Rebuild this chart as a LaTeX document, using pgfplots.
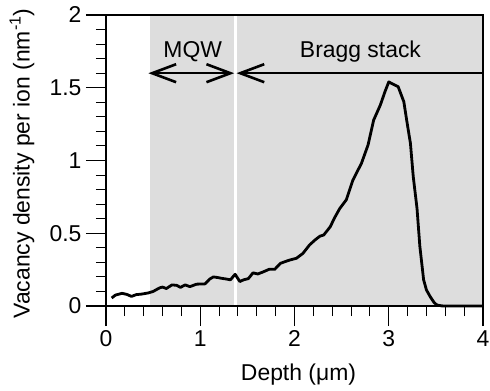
\documentclass[border=0pt]{standalone}
\usepackage{pgfplots}
\pgfplotsset{compat=1.18}
\usepackage{fontspec}
\setmainfont{Liberation Sans}
\usetikzlibrary{arrows.meta}
\definecolor{bandgray}{gray}{0.865}
\newcommand{\bigf}{\fontsize{23}{27}\selectfont}
\begin{document}
\begin{tikzpicture}[x=1bp,y=1bp]
\useasboundingbox (-106bp,-85bp) rectangle (384bp,306bp);
\begin{axis}[
  at={(0,0)}, anchor=south west,
  scale only axis,
  width=377bp, height=291bp,
  xmin=0, xmax=4, ymin=0, ymax=2,
  xtick={0,1,2,3,4}, ytick={0,0.5,1,1.5,2},
  minor x tick num=4, minor y tick num=4,
  tick align=outside,
  xtick pos=bottom, ytick pos=left,
  major tick length=20bp, minor tick length=10bp,
  every tick/.style={black, line width=1.1pt},
  axis line style={line width=1.3pt},
  axis on top,
  tick label style={font=\bigf},
  label style={font=\bigf},
  /pgf/number format/assume math mode=true,
  xticklabel style={yshift=-1bp},
  yticklabel style={xshift=-1bp},
  xlabel={Depth (μm)},
  ylabel={Vacancy density per ion (nm\textsuperscript{-1})},
  xlabel style={at={(axis description cs:0.5,0)}, anchor=center, yshift=-69bp, xshift=4bp},
  ylabel style={at={(axis description cs:0,0.5)}, anchor=center, rotate=0, yshift=84bp, xshift=-3bp},
  clip=false,
]
\fill[bandgray] (axis cs:0.47,0) rectangle (axis cs:4,2);
\draw[white, line width=3bp] (axis cs:1.37,0) -- (axis cs:1.37,2);
\draw[line width=2.6bp, {Straight Barb[length=24bp,width=18bp,line width=2.6bp]}-{Straight Barb[length=24bp,width=18bp,line width=2.6bp]}] (axis cs:0.45,1.60) -- (axis cs:1.36,1.60);
\draw[line width=2.6bp, {Straight Barb[length=24bp,width=18bp,line width=2.6bp]}-] (axis cs:1.385,1.60) -- (axis cs:4,1.60);
\node[font=\bigf] at (axis cs:0.92,1.75) {MQW};
\node[font=\bigf] at (axis cs:2.70,1.75) {Bragg stack};
\addplot[black, line width=2.8bp, line join=round, mark=none] coordinates {
(0.06,0.055) (0.10,0.075) (0.17,0.087) (0.22,0.080) (0.27,0.066) (0.32,0.078)
(0.38,0.082) (0.45,0.090) (0.50,0.100) (0.57,0.125) (0.60,0.130) (0.64,0.120)
(0.70,0.145) (0.75,0.142) (0.79,0.128) (0.84,0.145) (0.89,0.133) (0.96,0.150)
(1.05,0.152) (1.10,0.185) (1.14,0.200) (1.19,0.195) (1.23,0.190) (1.28,0.185)
(1.32,0.180) (1.37,0.218) (1.42,0.168) (1.46,0.180) (1.51,0.188) (1.56,0.228)
(1.61,0.220) (1.67,0.235) (1.73,0.252) (1.79,0.252) (1.85,0.293) (1.90,0.305)
(1.95,0.316) (2.02,0.328) (2.09,0.362) (2.16,0.420) (2.22,0.455) (2.27,0.480)
(2.31,0.488) (2.38,0.545) (2.42,0.600) (2.48,0.670) (2.55,0.730) (2.62,0.866)
(2.71,0.980) (2.78,1.106) (2.84,1.278) (2.91,1.380) (2.96,1.473) (3.00,1.540)
(3.10,1.507) (3.16,1.404) (3.19,1.278) (3.23,1.118) (3.26,0.889) (3.30,0.670)
(3.33,0.410) (3.37,0.180) (3.40,0.110) (3.44,0.064) (3.48,0.025) (3.51,0.007)
(3.56,0.001) (3.60,0) (4.00,0)
};
\end{axis}
\end{tikzpicture}
\end{document}
